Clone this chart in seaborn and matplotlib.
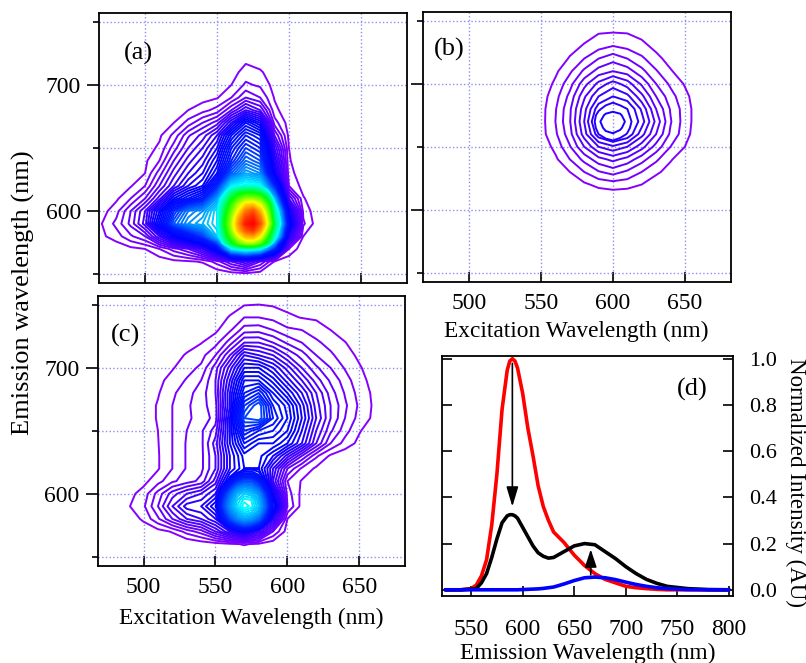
import numpy as np
import matplotlib
matplotlib.use('Agg')
import matplotlib.pyplot as plt
from matplotlib.colors import LinearSegmentedColormap
import seaborn as sns

# Panel (a): intensity read as contour count, row = emission, column = excitation
a_exc = [460, 470, 480, 490, 500, 510, 520, 530, 540, 550, 560, 570, 580, 590, 600, 610, 620, 630]
a_em = [730, 720, 710, 700, 690, 680, 670, 660, 650, 640, 630, 620, 610, 600, 590, 580, 570, 560, 550, 540]
a_z = [
    [0, 0, 0, 0, 0, 0, 0, 0, 0, 0, 0, 0, 0, 0, 0, 0, 0, 0],
    [0, 0, 0, 0, 0, 0, 0, 0, 0, 0, .3, .8, .3, 0, 0, 0, 0, 0],
    [0, 0, 0, 0, 0, 0, 0, 0, 0, .1, .6, 1.4, 1.2, .2, 0, 0, 0, 0],
    [0, 0, 0, 0, 0, 0, 0, 0, .1, .4, 1.0, 2.2, 1.8, .6, 0, 0, 0, 0],
    [0, 0, 0, 0, 0, 0, 0, .3, .6, .9, 2.0, 4, 3, .9, .1, 0, 0, 0],
    [0, 0, 0, 0, 0, .2, .5, 1.0, 1.6, 2.4, 5, 8, 6, 1.3, .3, 0, 0, 0],
    [0, 0, 0, 0, 0, .5, 1.0, 2.4, 4, 5.5, 10, 15, 12, 2.5, .5, 0, 0, 0],
    [0, 0, 0, 0, .3, .8, 2.3, 4.8, 6.4, 9, 15, 19, 17, 5, .7, .1, 0, 0],
    [0, 0, 0, 0, .5, 1.2, 3.5, 6, 8, 11, 18, 22, 20, 8, 1, .2, 0, 0],
    [0, 0, 0, .2, .8, 2, 5, 7.5, 9.5, 13, 20, 25, 23, 10, 1.1, .3, 0, 0],
    [0, 0, 0, .5, 1, 3.5, 6.5, 9, 11, 15, 24, 29, 27, 12, 1.3, .5, 0, 0],
    [0, 0, .3, .9, 2, 5, 8, 11, 13, 20, 34, 36, 35, 20, 2, .6, 0, 0],
    [0, .1, .8, 2, 4, 7.5, 13, 16, 19, 28, 48, 60, 57, 30, 6, 1.1, .2, 0],
    [0, .6, 1.6, 4, 7, 13, 21, 26, 28, 33, 57, 85, 78, 40, 12, 1.7, .3, 0],
    [0, 1, 2.3, 4.3, 7.5, 15, 24, 28, 30, 33, 62, 97, 90, 44, 15, 2.2, .4, 0],
    [0, .8, 1.5, 2.8, 4, 8, 13, 17, 22, 31, 55, 78, 70, 38, 10, 1, .2, 0],
    [0, 0, .3, .7, 1, 2, 3.5, 5, 8, 15, 33, 37, 34, 20, 2, .2, 0, 0],
    [0, 0, 0, 0, .1, .4, .7, .85, 1.1, 2.5, 5, 7, 4, .9, .2, 0, 0, 0],
    [0, 0, 0, 0, 0, 0, 0, 0, 0, .1, .3, .5, .3, 0, 0, 0, 0, 0],
    [0, 0, 0, 0, 0, 0, 0, 0, 0, 0, 0, 0, 0, 0, 0, 0, 0, 0],
]
# finer reading around the bright spot of (a)
a_peak_exc = [545, 550, 555, 560, 565, 570, 575, 580, 585, 590, 595, 600]
a_peak_em = [625, 620, 615, 610, 605, 600, 595, 590, 585, 580, 575, 570, 565]
a_peak_z = [
    [20, 23, 26, 29, 31, 32, 32, 30, 25, 17, 8, 2],
    [22, 27, 31, 34, 35, 36, 37, 35, 30, 22, 12, 2],
    [25, 30, 34, 41, 46, 48, 48, 45, 38, 27, 16, 4],
    [27, 31, 38, 48, 55, 60, 60, 57, 47, 32, 22, 8],
    [29, 33, 42, 53, 64, 74, 76, 68, 55, 37, 27, 12],
    [30, 33, 45, 57, 70, 85, 90, 78, 60, 40, 30, 14],
    [30, 33, 47, 60, 78, 92, 96, 85, 64, 42, 32, 15],
    [30, 33, 48, 62, 82, 97, 100, 90, 68, 44, 33, 15],
    [28, 32, 46, 60, 78, 90, 94, 82, 60, 42, 30, 12],
    [26, 31, 43, 55, 68, 78, 80, 70, 53, 38, 27, 10],
    [22, 28, 38, 48, 57, 63, 63, 57, 46, 32, 22, 6],
    [14, 20, 28, 33, 36, 37, 37, 34, 28, 20, 10, 2],
    [5, 9, 14, 19, 21, 22, 21, 19, 15, 8, 3, 1],
]

# Panel (b)
b_exc = [540, 550, 560, 570, 580, 590, 600, 610, 620, 630, 640, 650, 660, 670]
b_em = [750, 740, 730, 720, 710, 700, 690, 680, 670, 660, 650, 640, 630, 620, 610]
b_z = [
    [0, 0, 0, 0, 0, .1, .3, .2, .1, 0, 0, 0, 0, 0],
    [0, 0, 0, .2, .6, .98, 1.05, 1, .7, .3, 0, 0, 0, 0],
    [0, 0, .1, .6, 1.1, 1.6, 2, 1.7, 1.3, .7, .2, 0, 0, 0],
    [0, 0, .3, 1.1, 2, 3, 3.6, 3, 2.2, 1.3, .6, .1, 0, 0],
    [0, .1, .8, 1.8, 3.2, 4.4, 5, 4.5, 3.3, 2.1, 1.1, .4, 0, 0],
    [0, .3, 1.2, 2.6, 4.6, 6.3, 7.5, 6.5, 4.8, 3, 1.8, .9, .1, 0],
    [0, .5, 1.6, 3.3, 5.8, 8, 9, 8.3, 6.3, 4, 2.4, 1.3, .3, 0],
    [0, .6, 1.9, 3.8, 6.6, 9.7, 10.6, 10.2, 7.8, 5, 2.9, 1.5, .4, 0],
    [0, .6, 2, 3.9, 7, 10.8, 11.8, 10.6, 8.5, 5.7, 3.1, 1.5, .4, 0],
    [0, .6, 1.8, 3.6, 6.5, 9.7, 10.9, 9.9, 7.4, 5, 2.8, 1.4, .3, 0],
    [0, .3, 1.3, 2.9, 5, 7, 7.8, 7, 5.4, 3.6, 2, 1, .1, 0],
    [0, .1, .8, 2, 3.3, 4.6, 5.3, 4.6, 3.4, 2.2, 1.1, .4, 0, 0],
    [0, 0, .3, 1, 2, 2.9, 3.4, 2.8, 2, 1.2, .6, .1, 0, 0],
    [0, 0, 0, .4, .8, 1.3, 1.5, 1.4, 1, .4, .1, 0, 0, 0],
    [0, 0, 0, 0, .1, .2, .3, .2, .1, 0, 0, 0, 0, 0],
]
b_peak_exc = [585, 590, 595, 600, 605, 610, 615]
b_peak_em = [690, 685, 680, 675, 670, 665, 660, 655]
b_peak_z = [
    [7.5, 8, 8.4, 8.8, 8.4, 8, 7.4],
    [8.5, 9.2, 9.7, 10, 9.7, 9.2, 8.4],
    [9, 9.8, 10.4, 10.6, 10.4, 10, 9],
    [9.3, 10.4, 11.2, 11.5, 11.2, 10.3, 9.3],
    [9.3, 10.8, 11.6, 12, 11.6, 10.7, 9.5],
    [9.2, 10.5, 11.3, 11.6, 11.2, 10.4, 9.3],
    [8.8, 10, 10.7, 10.9, 10.6, 9.9, 9],
    [8.3, 9.2, 9.7, 10, 9.6, 9, 8.2],
]

# Panel (c)
c_exc = [480, 490, 500, 510, 520, 530, 540, 550, 560, 570, 580, 590, 600, 610, 620, 630, 640, 650, 660, 670]
c_em = [760, 750, 740, 730, 720, 710, 700, 690, 680, 670, 660, 650, 640, 630, 620, 610, 600, 590, 580, 570, 560, 550]
c_z = [
    [0, 0, 0, 0, 0, 0, 0, 0, 0, 0, 0, 0, 0, 0, 0, 0, 0, 0, 0, 0],
    [0, 0, 0, 0, 0, 0, 0, 0, .5, .95, 1.02, .9, .7, .3, 0, 0, 0, 0, 0, 0],
    [0, 0, 0, 0, 0, 0, .1, .4, 1.1, 2, 2, 1.7, 1.2, .95, .85, .3, 0, 0, 0, 0],
    [0, 0, 0, 0, 0, .1, .4, .8, 1.8, 3.5, 3.6, 3, 2.2, 2, 1.5, 1, .4, 0, 0, 0],
    [0, 0, 0, 0, .2, .6, .95, 1.6, 3.5, 6, 6, 5, 3.8, 3, 2.2, 1.6, 1.05, .3, 0, 0],
    [0, 0, 0, .1, .6, 1.1, 1.6, 3, 6, 10, 9, 8, 6, 4.5, 3, 2.2, 1.4, .8, .1, 0],
    [0, 0, 0, .4, .9, 1.6, 2.2, 4.5, 8.5, 13, 13, 11, 8.5, 6, 4.2, 3, 1.9, 1.1, .5, 0],
    [0, 0, 0, .7, 1.4, 2.1, 3, 5, 10, 16, 16, 13.5, 10.5, 8, 5.5, 3.8, 2.5, 1.3, .7, 0],
    [0, 0, .2, .9, 1.8, 2.6, 3.5, 5, 11, 18, 20, 16, 13, 10, 7, 4.5, 2.9, 1.6, .8, 0],
    [0, 0, .4, 1.1, 2, 2.8, 3.6, 4.6, 11, 21, 24, 18, 15.5, 11.5, 7.5, 5, 3.2, 1.8, .85, 0],
    [0, 0, .4, 1.1, 2, 2.9, 3.2, 4.5, 12, 23, 24, 19, 16, 12, 8, 5, 3, 1.6, .8, 0],
    [0, 0, .3, 1, 2, 3, 3.8, 5.5, 12, 20, 18, 17, 15, 11, 7, 4.2, 2.4, 1.1, .3, 0],
    [0, 0, .2, .95, 2, 3.1, 3.7, 6.5, 12, 17, 15, 15, 13, 10, 6, 3, 1.6, .7, .2, 0],
    [0, 0, .2, .9, 2, 3.1, 3.7, 6, 11, 14.5, 14.5, 12, 8.5, 5, 2.2, .8, .3, 0, 0, 0],
    [0, 0, .2, .9, 2, 3.1, 3.7, 6, 11, 14, 14, 9, 4, 1.8, .8, .3, 0, 0, 0, 0],
    [0, .2, .7, 1.6, 2.8, 3.5, 4.3, 7.5, 14, 20, 18, 8, 2, .9, .2, 0, 0, 0, 0, 0],
    [0, .7, 1.4, 3.4, 5.5, 7, 8, 10, 20, 30, 26, 12, 2.5, .7, 0, 0, 0, 0, 0, 0],
    [0, .95, 1.8, 4, 7, 9.5, 10, 13, 24, 34, 30, 16, 3, .6, 0, 0, 0, 0, 0, 0],
    [0, .4, 1.2, 2.8, 5, 7, 8, 10, 18, 26, 22, 9, 1, .1, 0, 0, 0, 0, 0, 0],
    [0, 0, .3, .6, 1.1, 2.4, 3.5, 6, 9, 12, 8, 3, .5, 0, 0, 0, 0, 0, 0, 0],
    [0, 0, 0, 0, 0, 0, .3, .5, .8, 1.1, .8, .3, 0, 0, 0, 0, 0, 0, 0, 0],
    [0, 0, 0, 0, 0, 0, 0, 0, 0, 0, 0, 0, 0, 0, 0, 0, 0, 0, 0, 0],
]
c_peak_exc = [545, 550, 555, 560, 565, 570, 575, 580, 585, 590, 595, 600]
c_peak_em = [625, 620, 615, 610, 605, 600, 595, 590, 585, 580, 575, 570, 565, 560]
c_peak_z = [
    [5, 6, 8, 10, 12, 14, 14, 14, 12, 9, 5, 2.5],
    [5, 6, 8, 11, 13, 14, 14.5, 14, 12, 9, 4, 2],
    [5, 6.5, 9, 13, 16, 18, 18, 16, 13, 8.5, 3.5, 1.8],
    [5.5, 7.5, 12, 17, 21, 23, 23, 20, 15, 9, 3.5, 1.6],
    [7, 10, 16, 21, 26, 28, 27, 24, 18, 11, 4, 1.6],
    [8, 11, 19, 25, 30, 32, 31, 28, 21, 13, 5, 2],
    [9, 12, 21, 27, 32, 34.5, 34, 30, 23, 14, 6, 2.5],
    [9.5, 13, 22, 28, 33, 36, 34.5, 31, 24, 15, 6, 3],
    [9, 12, 20, 26, 30, 33, 32, 29, 22, 13, 5, 2],
    [8, 10, 18, 23, 27, 29, 28, 25, 19, 11, 4, 1],
    [6, 8, 13, 18, 21, 23, 22, 19, 14, 8, 3, .8],
    [3.5, 6, 9, 11, 14, 15, 14, 12, 8, 4, 2, .5],
    [1, 2.5, 4, 5, 6, 7, 6, 5, 3, 1.5, .7, .3],
    [.3, .5, .7, .8, 1, 1.1, 1, .8, .6, .3, 0, 0],
]

# Panel (d) spectra
em_nm = [525, 540, 550, 555, 560, 565, 570, 575, 580, 585, 587.5, 590, 592.5, 595, 600, 605, 610, 615, 620, 625, 630,
         640, 650, 660, 670, 680, 690, 700, 710, 720, 730, 740, 750, 760, 780, 800]
red_y = [0, 0, .005, .02, .06, .13, .28, .5, .78, .95, .99, 1.0, .99, .96, .85, .7, .58, .45, .36, .30, .25,
         .205, .15, .105, .07, .045, .03, .015, .009, .005, .002, 0, 0, 0, 0, 0]
black_y = [0, 0, .003, .005, .03, .07, .14, .22, .29, .32, .325, .325, .32, .31, .27, .23, .19, .16, .145, .137, .14,
           .165, .19, .2, .195, .165, .135, .10, .07, .045, .028, .015, .01, .005, .001, 0]
blue_y = [0, 0, 0, 0, 0, 0, 0, 0, 0, 0, 0, 0, 0, 0, .001, .002, .003, .004, .006, .009, .012,
          .025, .04, .052, .055, .052, .044, .033, .023, .015, .009, .005, .003, .001, 0, 0]

sns.set_theme(style='ticks')
plt.rcParams['font.family'] = ['Liberation Serif', 'DejaVu Serif']
plt.rcParams['axes.linewidth'] = 1.3
plt.rcParams['text.color'] = 'black'
plt.rcParams['axes.labelcolor'] = 'black'
plt.rcParams['axes.edgecolor'] = 'black'
plt.rcParams['xtick.color'] = 'black'
plt.rcParams['ytick.color'] = 'black'

W, H = 806.0, 663.0
fig = plt.figure(figsize=(8.06, 6.63), dpi=100)


def add_ax(left, right, top, bottom):
    return fig.add_axes([left / W, 1 - bottom / H, (right - left) / W, (bottom - top) / H])


rainbow = LinearSegmentedColormap.from_list('igor', [
    (0.0, (0.55, 0.0, 1.0)), (0.13, (0.0, 0.0, 1.0)), (0.2, (0.0, 0.1, 1.0)), (0.35, (0.0, 1.0, 1.0)),
    (0.5, (0.0, 1.0, 0.0)), (0.7, (1.0, 1.0, 0.0)), (1.0, (1.0, 0.0, 0.0))])
LW = 1.4


def draw_levels(ax, xs, ys, z, lo, hi):
    ax.contour(xs, ys, np.array(z), levels=np.arange(lo, hi), cmap=rainbow, vmin=0, vmax=100, linewidths=LW)


def style_panel(ax, label, label_xy):
    ax.set_xlim(468, 681.7)
    ax.set_ylim(543, 757)
    ax.set_xticks([500, 550, 600, 650])
    ax.set_yticks([600, 700])
    ax.set_yticks([550, 650, 750], minor=True)
    ax.grid(True, which='both', color='#8f8ff0', linestyle=':', linewidth=1.0)
    ax.set_axisbelow(True)
    ax.tick_params(axis='x', direction='in', length=7.5, width=1.2, labelsize=17, pad=8)
    ax.tick_params(axis='y', which='major', direction='out', length=8.8, width=1.2, labelsize=17, pad=4)
    ax.tick_params(axis='y', which='minor', direction='out', length=4.4, width=1.2)
    ax.text(*label_xy, label, transform=ax.transAxes, fontsize=19, ha='left', va='center')


ax_a = add_ax(99, 406.5, 13, 283)
draw_levels(ax_a, a_exc, a_em, a_z, 1, 35)
draw_levels(ax_a, a_peak_exc, a_peak_em, a_peak_z, 35, 100)
style_panel(ax_a, '(a)', (0.08, 0.849))
ax_a.set_xticklabels([])

ax_b = add_ax(423, 730.5, 12, 281.5)
draw_levels(ax_b, b_exc, b_em, b_z, 1, 10)
draw_levels(ax_b, b_peak_exc, b_peak_em, b_peak_z, 10, 12)
style_panel(ax_b, '(b)', (0.035, 0.86))
ax_b.set_yticklabels([])
ax_b.set_xlabel('Excitation Wavelength (nm)', fontsize=16.8, labelpad=5.5)

ax_c = add_ax(97.5, 405, 296, 565.5)
draw_levels(ax_c, c_exc, c_em, c_z, 1, 15)
# upper lobe of (c) from the rows above the saddle, lower lobe from the finer reading
draw_levels(ax_c, c_exc, c_em[:15], c_z[:15], 15, 40)
draw_levels(ax_c, c_peak_exc, c_peak_em, c_peak_z, 15, 40)
style_panel(ax_c, '(c)', (0.045, 0.853))
ax_c.set_xlabel('Excitation Wavelength (nm)', fontsize=16.8, labelpad=7.6)

ax_d = add_ax(441.5, 733, 355.5, 595.5)
sns.lineplot(x=em_nm, y=red_y, color='#ff0000', linewidth=2.6, ax=ax_d, errorbar=None)
sns.lineplot(x=em_nm, y=black_y, color='black', linewidth=2.6, ax=ax_d, errorbar=None)
sns.lineplot(x=em_nm, y=blue_y, color='#0000ff', linewidth=2.6, ax=ax_d, errorbar=None)
ax_d.set_xlim(521.3, 803.9)
ax_d.set_ylim(-0.0247, 1.014)
ax_d.set_xticks([550, 600, 650, 700, 750, 800])
ax_d.set_yticks([0, 0.2, 0.4, 0.6, 0.8, 1.0])
ax_d.tick_params(axis='x', direction='in', length=7.5, width=1.2, labelsize=17, pad=17)
ax_d.tick_params(axis='y', direction='in', length=7.5, width=1.2, labelsize=16, pad=11.5,
                 left=True, right=True, labelleft=False, labelright=True)
ax_d.set_xlabel('Emission Wavelength (nm)', fontsize=16.8, labelpad=2.2)
ax_d.text(0.808, 0.86, '(d)', transform=ax_d.transAxes, fontsize=19, ha='left', va='center')
ax_d.annotate('', xy=(590, 0.36), xytext=(590, 0.98),
              arrowprops=dict(arrowstyle='-|>,head_width=0.3,head_length=1.0', color='black', lw=1.2, shrinkA=0, shrinkB=0))
ax_d.annotate('', xy=(666, 0.175), xytext=(666, 0.065),
              arrowprops=dict(arrowstyle='-|>,head_width=0.3,head_length=0.9', color='black', lw=1.2, shrinkA=0, shrinkB=0))

fig.text(23 / W, 1 - 293 / H, 'Emission wavelength (nm)', rotation=90, fontsize=19, ha='center', va='center')
fig.text(795.5 / W, 1 - 482 / H, 'Normalized Intensity (AU)', rotation=-90, fontsize=16.6, ha='center', va='center')

fig.savefig('out.png', dpi=100)
